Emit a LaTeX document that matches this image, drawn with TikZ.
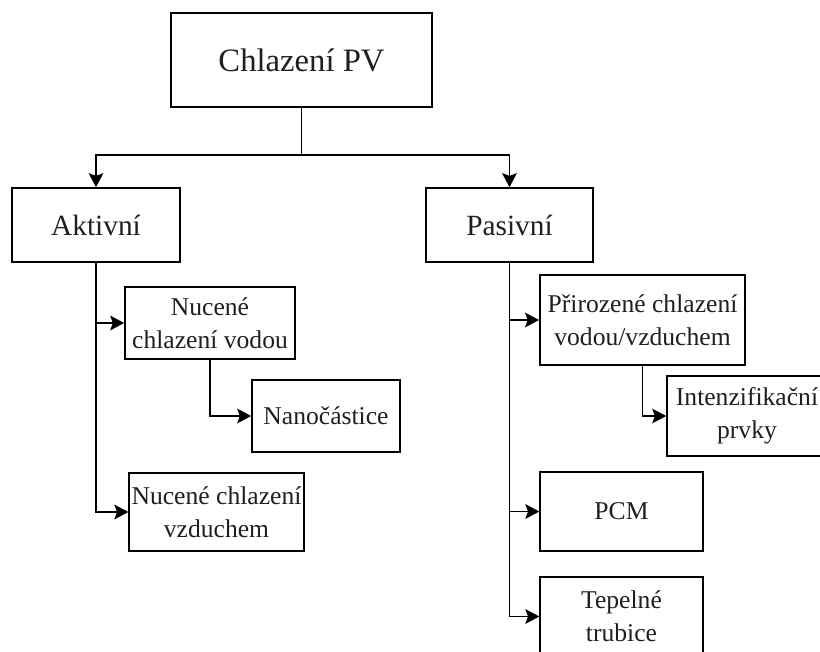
\documentclass[tikz,border=0pt]{standalone}
\usepackage{fontspec}
\setmainfont{Liberation Serif}
\usetikzlibrary{arrows.meta}
\tikzset{
    box/.style={draw, line width=1.2pt, align=center, inner sep=0pt, text=black!88},
    small/.style={font=\fontsize{19.2}{24.5}\selectfont},
    conn/.style={line width=1.2pt},
}
\begin{document}
\begin{tikzpicture}[x=0.75pt, y=-0.75pt, >={Stealth[length=10.5pt, width=11pt, inset=2pt]}]
    \useasboundingbox (0,0) rectangle (820,652);
    \node[box, minimum width=196pt, minimum height=70.5pt, font=\fontsize{24.5}{29}\selectfont] (top) at (301.5,60) {Chlazení PV};
    \node[box, minimum width=126pt, minimum height=55.5pt, font=\fontsize{22}{26}\selectfont] (akt) at (96,225) {Aktivní};
    \node[box, minimum width=125pt, minimum height=55.5pt, font=\fontsize{22}{26}\selectfont] (pas) at (509.5,225) {Pasivní};
    \node[box, small, minimum width=127.5pt, minimum height=54pt] (voda) at (210,323) {Nucené\\chlazení vodou};
    \node[box, small, minimum width=111pt, minimum height=54pt] (nano) at (326,416) {Nanočástice};
    \node[box, small, minimum width=131pt, minimum height=58.5pt] (vzduch) at (216.5,512) {Nucené chlazení\\vzduchem};
    \node[box, small, minimum width=154pt, minimum height=67.5pt] (prir) at (642.5,320) {Přirozené chlazení\\vodou/vzduchem};
    \node[box, small, minimum width=120pt, minimum height=60pt] (inten) at (747,416) {Intenzifikační\\prvky};
    \node[box, small, minimum width=122pt, minimum height=59pt] (pcm) at (621.5,511.5) {PCM};
    \node[box, small, minimum width=122pt, minimum height=59pt] (tep) at (621.5,616.5) {Tepelné\\trubice};
    \coordinate (split) at (301.5,155);
    \draw[conn] (top.south) -- (split);
    \draw[conn, ->] (split) -| (akt.north);
    \draw[conn, ->] (split) -| (pas.north);
    \draw[conn, ->] (akt.south) |- (voda.west);
    \draw[conn, ->] (akt.south) |- (vzduch.west);
    \draw[conn, ->] (voda.south) |- (nano.west);
    \draw[conn, ->] (pas.south) |- (prir.west);
    \draw[conn, ->] (pas.south) |- (pcm.west);
    \draw[conn, ->] (pas.south) |- (tep.west);
    \draw[conn, ->] (prir.south) |- (inten.west);
\end{tikzpicture}
\end{document}
